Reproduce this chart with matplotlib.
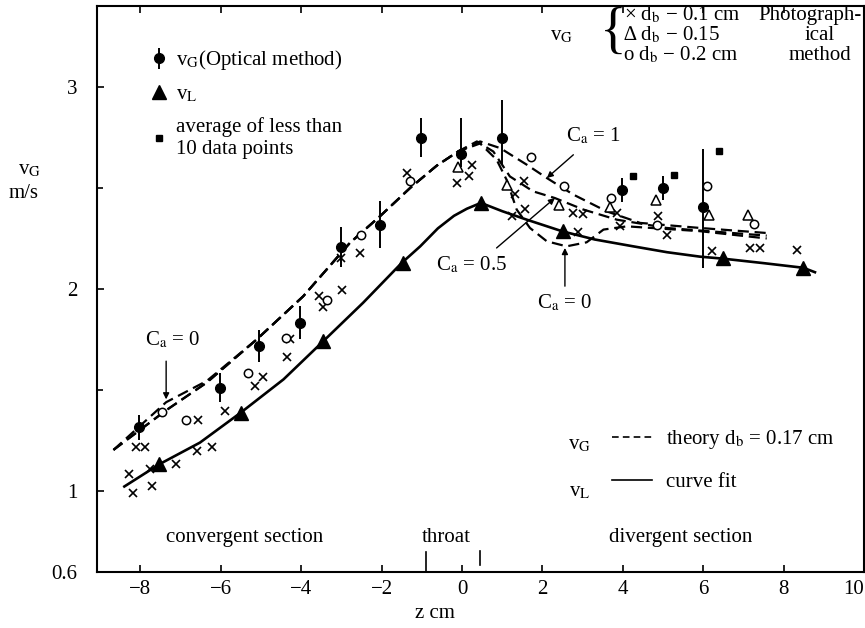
import matplotlib
matplotlib.use("Agg")
import matplotlib.pyplot as plt
from matplotlib.lines import Line2D

plt.rcParams['font.family'] = ['Liberation Serif', 'DejaVu Serif']
plt.rcParams['mathtext.fontset'] = 'stix'

# ---------------- data ----------------
# optical method v_G (filled circles with error bars)
opt_z = [-8.03, -6.02, -5.04, -4.03, -3.02, -2.04, -1.02, -0.03, 1.00, 3.97, 4.99, 5.99]
opt_v = [1.315, 1.512, 1.718, 1.833, 2.208, 2.319, 2.747, 2.670, 2.747, 2.491, 2.500, 2.404]
opt_err_lo = [0.064, 0.070, 0.080, 0.082, 0.10, 0.115, 0.095, 0.064, 0.13, 0.06, 0.06, 0.30]
opt_err_hi = [0.064, 0.070, 0.080, 0.082, 0.10, 0.115, 0.100, 0.178, 0.19, 0.06, 0.06, 0.29]

# averages of less than 10 data points
avg_z = [4.25, 5.27, 6.39]
avg_v = [2.557, 2.562, 2.681]

# v_L (filled triangles)
vl_z = [-7.53, -5.50, -3.45, -1.48, 0.47, 2.50, 6.50, 8.49]
vl_v = [1.133, 1.389, 1.742, 2.130, 2.426, 2.285, 2.154, 2.105]

# photographic method, d_b = 0.1 cm (x)
x01_z = [-8.28, -8.19, -8.12, -7.89, -7.76, -7.72, -7.12, -6.60, -6.56, -6.23, -5.90,
         -5.15, -4.94, -4.36, -4.28, -3.55, -3.45, -3.02, -2.98, -2.55, -1.36, -0.12,
         0.18, 0.24, 1.25, 1.32, 1.54, 1.57, 2.77, 2.89, 3.00, 3.85, 3.93, 4.88, 5.09,
         6.21, 7.16, 7.41, 8.33]
x01_v = [1.084, 0.990, 1.216, 1.216, 1.109, 1.023, 1.133, 1.199, 1.352, 1.216, 1.397,
         1.520, 1.564, 1.663, 1.754, 1.965, 1.912, 2.154, 1.994, 2.179, 2.575, 2.524,
         2.557, 2.615, 2.360, 2.472, 2.532, 2.396, 2.376, 2.281, 2.371, 2.376, 2.310, 2.363, 2.269,
         2.187, 2.203, 2.203, 2.195]

# d_b = 0.15 (open triangles)
t015_z = [-0.09, 1.13, 2.42, 3.68, 4.83, 6.15, 7.12]
t015_v = [2.603, 2.516, 2.414, 2.406, 2.442, 2.368, 2.368]

# d_b = 0.2 cm (open circles)
c02_z = [-7.47, -6.87, -5.33, -4.38, -3.35, -2.51, -1.30, 1.72, 2.54, 3.70, 4.84, 6.10, 7.26]
c02_v = [1.392, 1.351, 1.586, 1.759, 1.948, 2.265, 2.532, 2.651, 2.511, 2.450, 2.319, 2.508, 2.323]

# curve fit v_L
fit_z = [-8.40, -7.53, -6.52, -5.50, -4.44, -3.45, -2.46, -1.50, -1.04, -0.60, -0.20, 0.12, 0.47,
         1.00, 1.61, 2.50, 3.30, 4.26, 5.10, 5.92, 6.50, 7.50, 8.49, 8.78]
fit_v = [1.023, 1.133, 1.240, 1.389, 1.553, 1.742, 1.932, 2.129, 2.211, 2.300, 2.362, 2.397, 2.426,
         2.385, 2.343, 2.285, 2.245, 2.211, 2.182, 2.160, 2.150, 2.128, 2.105, 2.083]

# theory v_G, d_b = 0.17 cm (three curves C_a = 0, 0.5, 1)
th_left_z = [-8.67, -7.36, -6.35, -5.11, -3.95, -2.79, -2.04, -1.29, -0.63, -0.10]
th_left_v = [1.204, 1.400, 1.537, 1.750, 1.964, 2.228, 2.360, 2.500, 2.610, 2.680]
th0_left_v = [1.204, 1.440, 1.545, 1.750, 1.964, 2.228, 2.360, 2.500, 2.610, 2.680]

th1_z = [0.45, 0.95, 1.61, 2.11, 2.77, 3.60, 4.43, 5.92, 7.58]
th1_v = [2.730, 2.697, 2.615, 2.549, 2.467, 2.384, 2.327, 2.302, 2.277]
th05_z = [0.37, 0.78, 1.19, 1.77, 2.31, 3.02, 3.85, 5.09, 7.58]
th05_v = [2.730, 2.680, 2.557, 2.483, 2.450, 2.393, 2.343, 2.302, 2.264]
th0_z = [0.45, 0.86, 1.11, 1.36, 1.69, 2.11, 2.60, 3.10, 3.52, 4.10, 5.92, 7.58]
th0_v = [2.720, 2.640, 2.540, 2.393, 2.302, 2.236, 2.211, 2.231, 2.294, 2.310, 2.286, 2.250]

x_ticks = [-8, -6, -4, -2, 0, 2, 4, 6, 8, 10]
x_tick_labels = ["\u22128", "\u22126", "\u22124", "\u22122", "0", "2", "4", "6", "8", "10"]
y_ticks = [0.6, 1, 2, 3]
y_tick_labels = ["0.6", "1", "2", "3"]
y_minor = [1.5, 2.5]

# ---------------- figure ----------------
W, H = 865, 628
fig = plt.figure(figsize=(W / 100, H / 100), dpi=100)
ax = fig.add_axes([97 / W, 56 / H, 767 / W, 566 / H])
ax.set_xlim(-9.08, 10.0)
ax.set_ylim(0.6, 3.4)

FS = 15
K = 'black'
dash = (5, 2.6)

# theory curves
ax.plot(th_left_z + th1_z, th_left_v + th1_v, color=K, lw=1.6, dashes=dash)
ax.plot(th_left_z + th05_z, th_left_v + th05_v, color=K, lw=1.6, dashes=dash)
ax.plot(th_left_z + th0_z, th0_left_v + th0_v, color=K, lw=1.6, dashes=dash)

# curve fit
ax.plot(fit_z, fit_v, color=K, lw=1.9, solid_joinstyle='round')

# data
ax.plot(vl_z, vl_v, ls='none', marker='^', ms=10, color=K)
ax.plot(x01_z, x01_v, ls='none', marker='x', ms=5.5, mew=1.2, color=K)
ax.plot(t015_z, t015_v, ls='none', marker='^', ms=7, mfc='white', mec=K, mew=1.1)
ax.plot(c02_z, c02_v, ls='none', marker='o', ms=6, mfc='white', mec=K, mew=1.1)
eb = ax.errorbar(opt_z, opt_v, yerr=[opt_err_lo, opt_err_hi], fmt='o', ms=7,
                 color=K, elinewidth=1.4, capsize=0)
avg = ax.plot(avg_z, avg_v, ls='none', marker='s', ms=4.5, color=K)[0]

# throat markers
ax.plot([-0.9, -0.9], [0.605, 0.70], color=K, lw=1.2)
ax.plot([0.45, 0.45], [0.635, 0.705], color=K, lw=1.2)

# annotations
arr = dict(arrowstyle='-|>', color=K, lw=1.0, mutation_scale=9, shrinkA=0, shrinkB=0)
ax.text(-7.2, 1.75, r"C$_\mathrm{a}$ = 0", fontsize=FS, ha='center', va='center')
ax.annotate('', xy=(-7.36, 1.454), xytext=(-7.36, 1.643), arrowprops=arr)
ax.text(3.27, 2.755, r"C$_\mathrm{a}$ = 1", fontsize=FS, ha='center', va='center')
ax.annotate('', xy=(2.11, 2.549), xytext=(2.77, 2.664), arrowprops=arr)
ax.text(0.24, 2.121, r"C$_\mathrm{a}$ = 0.5", fontsize=FS, ha='center', va='center')
ax.annotate('', xy=(2.31, 2.45), xytext=(0.86, 2.203), arrowprops=arr)
ax.text(2.56, 1.932, r"C$_\mathrm{a}$ = 0", fontsize=FS, ha='center', va='center')
ax.annotate('', xy=(2.56, 2.203), xytext=(2.56, 2.014), arrowprops=arr)

# section labels
ax.text(-5.4, 0.77, "convergent section", fontsize=FS, ha='center', va='center')
ax.text(-0.4, 0.77, "throat", fontsize=FS, ha='center', va='center')
ax.text(5.45, 0.77, "divergent section", fontsize=FS, ha='center', va='center')

# ticks / spines
for s in ax.spines.values():
    s.set_linewidth(1.5)
ax.set_xticks(x_ticks)
ax.set_xticklabels(x_tick_labels)
ax.get_xticklabels()[-1].set_horizontalalignment('right')
ax.set_yticks(y_ticks)
ax.set_yticklabels(y_tick_labels)
ax.set_yticks(y_minor, minor=True)
ax.tick_params(axis='x', which='major', direction='in', length=5, width=1.2, top=True,
               labelsize=FS, pad=6)
ax.tick_params(axis='y', which='major', direction='in', length=5, width=1.2,
               labelsize=FS, pad=14)
ax.tick_params(axis='y', which='minor', direction='in', length=4, width=1.2)

# axis titles
fig.text(435 / W, 1 - 614 / H, "z cm", fontsize=FS, ha='center', va='center')
fig.text(30 / W, 1 - 170 / H, r"v$_\mathrm{G}$", fontsize=FS, ha='center', va='center')
fig.text(24 / W, 1 - 193 / H, "m/s", fontsize=FS, ha='center', va='center')

# top-left legend
tri = Line2D([], [], ls='none', marker='^', ms=10, color=K)
leg1 = ax.legend([eb, tri, avg],
                 [r"v$_\mathrm{G}$(Optical method)", r"v$_\mathrm{L}$",
                  "average of less than\n10 data points"],
                 loc='upper left', bbox_to_anchor=(0.07, 0.925), frameon=False,
                 fontsize=FS, handlelength=0.8, handletextpad=0.4, labelspacing=0.6,
                 borderaxespad=0, borderpad=0)
ax.add_artist(leg1)

# bottom-right legend
dl = Line2D([], [], color=K, lw=1.2, dashes=(4, 2.5))
sl = Line2D([], [], color=K, lw=1.2)
ax.legend([dl, sl], [r"theory d$_\mathrm{b}$ = 0.17 cm", "curve fit"],
          loc='upper left', bbox_to_anchor=((612 - 97) / 767, 1 - (428 - 6) / 566),
          frameon=False, fontsize=FS, handlelength=1.9, handletextpad=0.7,
          labelspacing=1.05, borderaxespad=0, borderpad=0)
fig.text(580 / W, 1 - 445 / H, r"v$_\mathrm{G}$", fontsize=FS, ha='center', va='center')
fig.text(580 / W, 1 - 492 / H, r"v$_\mathrm{L}$", fontsize=FS, ha='center', va='center')

# top-right legend
fig.text(562 / W, 1 - 40 / H, r"v$_\mathrm{G}$", fontsize=FS, ha='center', va='baseline')
fig.text(613 / W, 1 - 34 / H, "{", fontsize=40, ha='center', va='center')
fig.text(624 / W, 1 - 20 / H, r"× d$_\mathrm{b}$ − 0.1 cm", fontsize=FS, ha='left', va='baseline')
fig.text(623 / W, 1 - 40 / H, r"∆ d$_\mathrm{b}$ − 0.15", fontsize=FS, ha='left', va='baseline')
fig.text(623 / W, 1 - 60 / H, r"o d$_\mathrm{b}$ − 0.2 cm", fontsize=FS, ha='left', va='baseline')
fig.text(862 / W, 1 - 20 / H, "Photograph-", fontsize=FS, ha='right', va='baseline')
fig.text(820 / W, 1 - 40 / H, "ical", fontsize=FS, ha='center', va='baseline')
fig.text(820 / W, 1 - 60 / H, "method", fontsize=FS, ha='center', va='baseline')

fig.savefig("out.png", dpi=100)
